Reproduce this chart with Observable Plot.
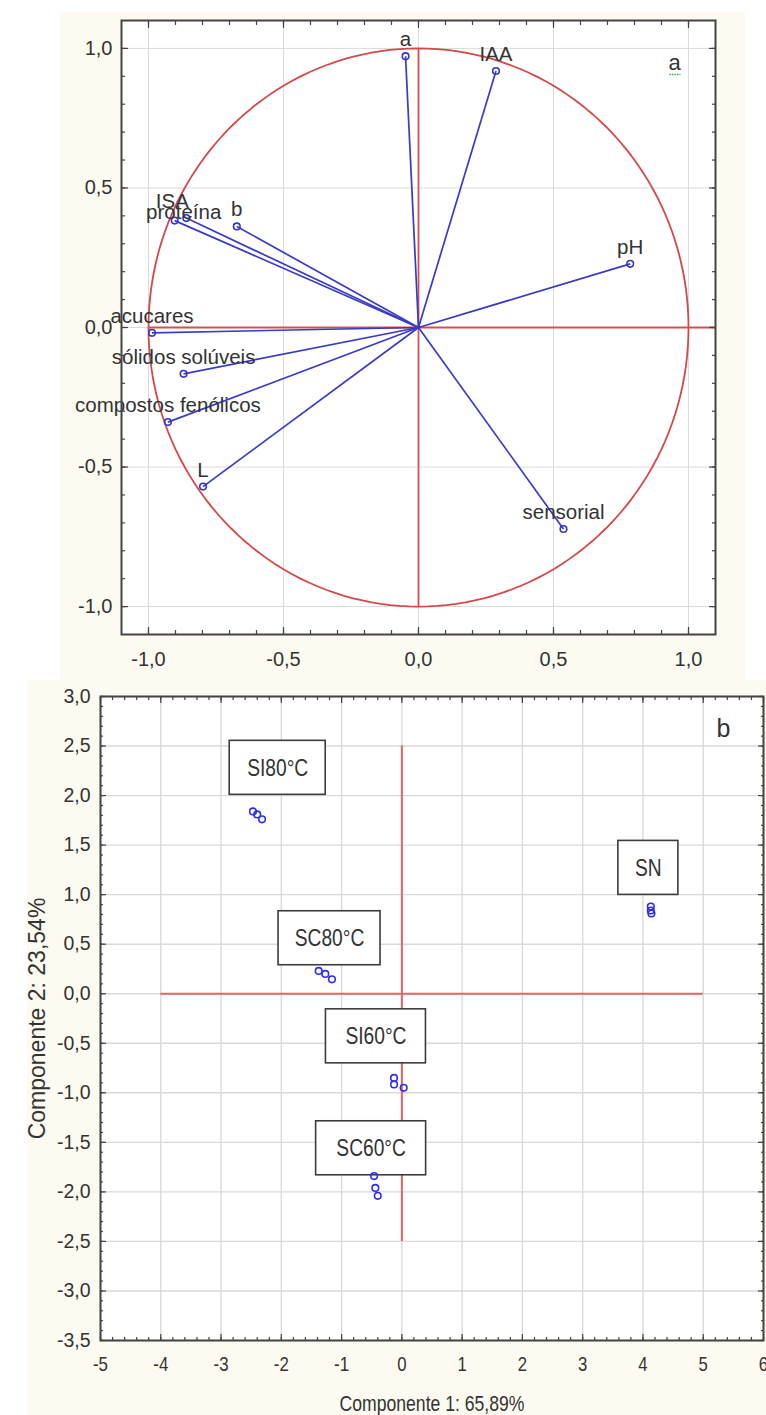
<!DOCTYPE html>
<html>
<head>
<meta charset="utf-8">
<script src="https://cdn.jsdelivr.net/npm/d3@7"></script>
<script src="https://cdn.jsdelivr.net/npm/@observablehq/plot@0.6"></script>
<style>
  html, body { margin: 0; padding: 0; background: #ffffff; }
  body { width: 766px; height: 1415px; position: relative; overflow: hidden; }
  #pa { position: absolute; left: 60px; top: 12px; }
  #pb { position: absolute; left: 27px; top: 680px; }
</style>
</head>
<body>
<div id="pa"></div>
<div id="pb"></div>
<script>
// ---------- Panel a: variable loadings (correlation circle) ----------
const varNames = ["a", "IAA", "pH", "sensorial", "L", "compostos fenólicos", "sólidos solúveis", "acucares", "proteína", "ISA", "b"];
const varPC1   = [-0.048, 0.287, 0.784, 0.537, -0.798, -0.928, -0.870, -0.987, -0.903, -0.860, -0.673];
const varPC2   = [ 0.972, 0.919, 0.228, -0.722, -0.570, -0.339, -0.166, -0.019, 0.383, 0.392, 0.362];
const ticksA   = [-1, -0.5, 0, 0.5, 1];
const panelLabelA = "a";

// ---------- Panel b: sample scores ----------
const sampleGroup = ["SI80°C","SI80°C","SI80°C","SC80°C","SC80°C","SC80°C","SN","SN","SN","SI60°C","SI60°C","SI60°C","SC60°C","SC60°C","SC60°C"];
const samplePC1   = [-2.47, -2.40, -2.32, -1.38, -1.27, -1.16, 4.13, 4.13, 4.14, -0.13, -0.13, 0.03, -0.46, -0.44, -0.40];
const samplePC2   = [ 1.84,  1.81,  1.76,  0.23,  0.20,  0.145, 0.88, 0.84, 0.81, -0.85, -0.915, -0.95, -1.84, -1.96, -2.04];
const groupNames  = ["SI80°C", "SC80°C", "SN", "SI60°C", "SC60°C"];
const groupLabelPC1 = [-2.06, -1.20, 4.09, -0.43, -0.51];
const groupLabelPC2 = [ 2.28,  0.56, 1.27, -0.43, -1.56];
const ticksBx = [-5, -4, -3, -2, -1, 0, 1, 2, 3, 4, 5, 6];
const ticksBy = [-3.5, -3, -2.5, -2, -1.5, -1, -0.5, 0, 0.5, 1, 1.5, 2, 2.5, 3];
const axisTitleX = "Componente 1: 65,89%";
const axisTitleY = "Componente 2: 23,54%";
const panelLabelB = "b";

// ---------- styles ----------
const FONT = "'Liberation Sans', Arial, Helvetica, sans-serif";
const CREAM = "#fdfbf1";
const FRAME = "#444444";
const GRID = "#dadada";
const INK = "#333333";
const fmt1 = d => d.toFixed(1).replace(".", ",");
const labelNudge = { "ISA": { dx: -14, dy: 0 }, "proteína": { dx: 9, dy: 8 } };
const boxWidthPx = { "SI80°C": 96, "SC80°C": 102, "SN": 60, "SI60°C": 100, "SC60°C": 110 };
const boxHeightPx = 54;
const NARROW = 0.8; // the reference's lower panel text is horizontally condensed

// ---------- build panel a ----------
const loadings = varNames.map((name, i) => ({ name, x: varPC1[i], y: varPC2[i] }));
const unitCircle = d3.range(0, 361, 2).map(a => ({ x: Math.cos(a * Math.PI / 180), y: Math.sin(a * Math.PI / 180) }));
const minorA = d3.range(-10, 11).map(i => i / 10);

function frameTicks(axisFn, anchors, ticks, size) {
  return anchors.map(an => axisFn(ticks, { anchor: an, tickSize: -size, fill: "none", label: null, stroke: FRAME, strokeWidth: 1.2 }));
}

const labelMarksA = loadings.map(d => {
  const n = labelNudge[d.name] || { dx: 0, dy: 0 };
  return Plot.text([d], {
    x: "x", y: "y", text: "name", lineAnchor: "bottom", textAnchor: "middle",
    dx: n.dx, dy: -10 + n.dy, fontSize: 20.5, fill: INK
  });
});

const plotA = Plot.plot({
  width: 685, height: 668,
  marginTop: 8, marginRight: 30, marginBottom: 46, marginLeft: 61,
  style: { background: CREAM, fontFamily: FONT, color: INK, overflow: "visible" },
  x: { domain: [-1.1, 1.1] },
  y: { domain: [-1.1, 1.1] },
  marks: [
    Plot.frame({ fill: "white", stroke: null }),
    Plot.gridX(ticksA, { stroke: GRID, strokeOpacity: 1 }),
    Plot.gridY(ticksA, { stroke: GRID, strokeOpacity: 1 }),
    Plot.ruleX([0], { y1: -1, y2: 1, stroke: "#d65050", strokeWidth: 1.8 }),
    Plot.ruleY([0], { x1: -1, x2: 1.1, stroke: "#d65050", strokeWidth: 1.8 }),
    Plot.line(unitCircle, { x: "x", y: "y", stroke: "#d54848", strokeWidth: 1.8 }),
    Plot.link(loadings, { x1: 0, y1: 0, x2: "x", y2: "y", stroke: "#3a3ac6", strokeWidth: 1.7 }),
    Plot.dot(loadings, { x: "x", y: "y", r: 3.3, stroke: "#3434cc", strokeWidth: 1.6, fill: "none" }),
    ...labelMarksA,
    Plot.text([panelLabelA], { text: d => d, frameAnchor: "top-right", textAnchor: "middle", dx: -41, dy: 42, lineAnchor: "middle", fontSize: 22, fill: INK }),
    Plot.axisX(ticksA, { anchor: "bottom", tickSize: 0, tickPadding: 17, tickFormat: fmt1, fontSize: 20, label: null, fill: INK }),
    Plot.axisY(ticksA, { anchor: "left", tickSize: 0, tickPadding: 9, tickFormat: fmt1, fontSize: 20, label: null, fill: INK }),
    ...frameTicks(Plot.axisX, ["top", "bottom"], minorA, 4),
    ...frameTicks(Plot.axisY, ["left", "right"], minorA, 4),
    ...frameTicks(Plot.axisX, ["top", "bottom"], ticksA, 7),
    ...frameTicks(Plot.axisY, ["left", "right"], ticksA, 7),
    Plot.frame({ stroke: FRAME, strokeWidth: 2 })
  ]
});
document.getElementById("pa").appendChild(plotA);

// green dotted underline under the panel letter "a" (the last "a" text drawn)
{
  const t = d3.select(plotA).selectAll("text").filter(function () { return this.textContent === panelLabelA; }).nodes().pop();
  if (t) {
    const bb = t.getBBox();
    const m = t.getCTM(), sm = plotA.getCTM();
    const ox = m && sm ? m.e - sm.e : 0, oy = m && sm ? m.f - sm.f : 0;
    d3.select(plotA).append("line")
      .attr("x1", ox + bb.x + 1).attr("x2", ox + bb.x + bb.width - 1)
      .attr("y1", oy + bb.y + bb.height).attr("y2", oy + bb.y + bb.height)
      .attr("stroke", "#4a9a4a").attr("stroke-width", 1.4).attr("stroke-dasharray", "1.5,1");
  }
}

// ---------- build panel b ----------
const samples = sampleGroup.map((g, i) => ({ g, x: samplePC1[i], y: samplePC2[i] }));
const groupLabels = groupNames.map((name, i) => ({ name, x: groupLabelPC1[i], y: groupLabelPC2[i] }));
const minorBx = d3.range(-25, 31).map(i => i / 5);
const minorBy = d3.range(-35, 31).map(i => i / 10);

const boxMarks = groupLabels.map(d => {
  const w = boxWidthPx[d.name], h = boxHeightPx;
  return Plot.rect([d], {
    x1: "x", x2: "x", y1: "y", y2: "y",
    insetLeft: -w / 2, insetRight: -w / 2, insetTop: -h / 2, insetBottom: -h / 2,
    fill: "white", stroke: "#3c3c3c", strokeWidth: 1.6
  });
});

const plotB = Plot.plot({
  width: 739, height: 735,
  marginTop: 16, marginRight: 3, marginBottom: 75, marginLeft: 73,
  style: { background: CREAM, fontFamily: FONT, color: INK, overflow: "visible" },
  x: { domain: [-5, 6] },
  y: { domain: [-3.5, 3] },
  marks: [
    Plot.frame({ fill: "white", stroke: null }),
    Plot.gridX(ticksBx, { stroke: GRID, strokeOpacity: 1, strokeWidth: 1.4 }),
    Plot.gridY(ticksBy, { stroke: GRID, strokeOpacity: 1, strokeWidth: 1.4 }),
    Plot.ruleY([0], { x1: -4, x2: 5, stroke: "#e36464", strokeWidth: 2 }),
    Plot.ruleX([0], { y1: -2.5, y2: 2.5, stroke: "#e36464", strokeWidth: 2 }),
    ...boxMarks,
    Plot.text(groupLabels, { x: "x", y: "y", text: "name", fontSize: 24, fill: "#333", lineAnchor: "middle", textAnchor: "middle" }),
    Plot.dot(samples, { x: "x", y: "y", r: 3.3, stroke: "#2e2ef2", strokeWidth: 1.6, fill: "none" }),
    Plot.text([panelLabelB], { text: d => d, frameAnchor: "top-right", textAnchor: "middle", dx: -40, dy: 32, lineAnchor: "middle", fontSize: 25, fill: INK }),
    Plot.axisX(ticksBx, { anchor: "bottom", tickSize: 0, tickPadding: 16, tickFormat: d => String(d), fontSize: 21, label: null, fill: INK }),
    Plot.axisY(ticksBy, { anchor: "left", tickSize: 0, tickPadding: 10, tickFormat: fmt1, fontSize: 19.5, label: null, fill: INK }),
    ...frameTicks(Plot.axisX, ["top", "bottom"], minorBx, 3),
    ...frameTicks(Plot.axisY, ["left", "right"], minorBy, 3),
    ...frameTicks(Plot.axisX, ["top", "bottom"], ticksBx, 6),
    ...frameTicks(Plot.axisY, ["left", "right"], ticksBy, 6),
    Plot.text([axisTitleX], { text: d => d, frameAnchor: "bottom", textAnchor: "middle", dy: 63, lineAnchor: "middle", fontSize: 22, fill: INK }),
    Plot.text([axisTitleY], { text: d => d, frameAnchor: "left", textAnchor: "middle", dx: -63, rotate: -90, lineAnchor: "middle", fontSize: 23, fill: INK }),
    Plot.frame({ stroke: FRAME, strokeWidth: 2 })
  ]
});
document.getElementById("pb").appendChild(plotB);

// condense the horizontal texts of panel b like the reference (text stays real text)
{
  const condense = new Set([...groupNames, axisTitleX]);
  d3.select(plotB).selectAll("text").each(function () {
    const inXTicks = this.closest('g[aria-label="x-axis tick label"]');
    if (condense.has(this.textContent) || inXTicks) {
      const L = this.getComputedTextLength();
      if (L > 0) {
        this.setAttribute("textLength", (L * NARROW).toFixed(1));
        this.setAttribute("lengthAdjust", "spacingAndGlyphs");
      }
    }
  });
}
</script>
</body>
</html>
